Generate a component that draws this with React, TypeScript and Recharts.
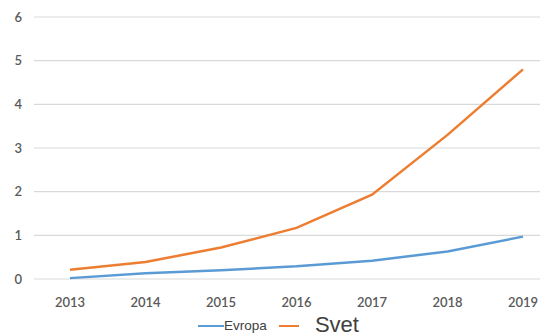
import { LineChart, Line, XAxis, YAxis, CartesianGrid, Legend } from 'recharts';

const YEARS = ['2013', '2014', '2015', '2016', '2017', '2018', '2019'];
const EVROPA = [0.02, 0.13, 0.2, 0.29, 0.42, 0.63, 0.97];
const SVET = [0.21, 0.39, 0.72, 1.17, 1.93, 3.3, 4.8];
const Y_TICKS = [0, 1, 2, 3, 4, 5, 6];

const BLUE = '#5B9BD5';
const ORANGE = '#ED7D31';
const AXIS_TEXT = '#595959';

const rows = YEARS.map((year, i) => ({ year, evropa: EVROPA[i], svet: SVET[i] }));

// Legend where the two entries use very different font sizes
function MixedLegend() {
  return (
    <div
      style={{
        display: 'flex',
        justifyContent: 'center',
        alignItems: 'center',
        height: 23,
        paddingLeft: 17,
        fontFamily: '"Liberation Sans", Arial, sans-serif',
        color: '#404040',
        lineHeight: 1,
      }}
    >
      <span style={{ display: 'inline-block', width: 26, height: 2, background: BLUE, marginTop: 2 }} />
      <span style={{ fontSize: 13.5, marginTop: 3 }}>Evropa</span>
      <span style={{ display: 'inline-block', width: 20, height: 2, background: ORANGE, margin: '2px 16px 0 12px' }} />
      <span style={{ fontSize: 22 }}>Svet</span>
    </div>
  );
}

export default function App() {
  return (
    <div style={{ position: 'absolute', left: 0, top: 0, width: 540, height: 336, background: '#fff', overflow: 'hidden' }}>
      <LineChart width={540} height={336} data={rows} margin={{ top: 17, right: 0, bottom: 0, left: 0 }}>
        <CartesianGrid vertical={false} stroke="#D9D9D9" strokeWidth={1.2} />
        <XAxis
          dataKey="year"
          padding={{ left: 36, right: 17 }}
          axisLine={false}
          tickLine={false}
          tickMargin={13}
          height={34}
          tick={{ fontSize: 13, fill: AXIS_TEXT, fontFamily: 'Lato, sans-serif', fontWeight: 600 }}
        />
        <YAxis
          domain={[0, 6]}
          ticks={Y_TICKS}
          width={34}
          axisLine={false}
          tickLine={false}
          tickMargin={0}
          dx={-6}
          tick={{ fontSize: 13, fill: AXIS_TEXT, fontFamily: 'Lato, sans-serif', fontWeight: 600 }}
        />
        <Legend verticalAlign="bottom" height={23} wrapperStyle={{ bottom: 0 }} content={() => <MixedLegend />} />
        <Line type="linear" dataKey="evropa" name="Evropa" stroke={BLUE} strokeWidth={2.5} dot={false} isAnimationActive={false} />
        <Line type="linear" dataKey="svet" name="Svet" stroke={ORANGE} strokeWidth={2.5} dot={false} isAnimationActive={false} />
      </LineChart>
    </div>
  );
}
